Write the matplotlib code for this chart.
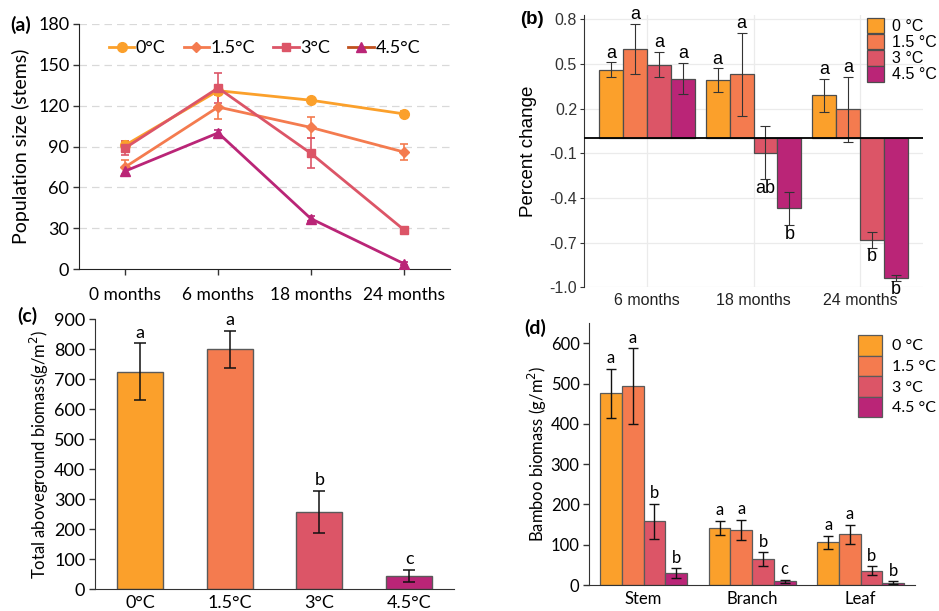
import matplotlib
matplotlib.use("Agg")
import matplotlib.pyplot as plt
import numpy as np
from matplotlib.lines import Line2D
from matplotlib.patches import Patch

# ---------------- data ----------------
temps = ["0°C", "1.5°C", "3°C", "4.5°C"]
temps_sp = ["0 °C", "1.5 °C", "3 °C", "4.5 °C"]
colors = ["#FBA02B", "#F47B4F", "#DC5567", "#BA2577"]

# (a) population size
months_a = ["0 months", "6 months", "18 months", "24 months"]
pop_0 = [91, 131, 124, 114]
pop_15 = [75, 119, 104, 86]
pop_3 = [89, 133, 85, 29]
pop_45 = [72, 100, 37, 4]
pop_err_0 = [3, 3, 2, 2]
pop_err_15 = [5, 9, 8, 6]
pop_err_3 = [5, 11, 11, 2]
pop_err_45 = [3, 2, 2, 1]

# (b) percent change
months_b = ["6 months", "18 months", "24 months"]
pc_0 = [0.46, 0.39, 0.29]
pc_15 = [0.60, 0.43, 0.195]
pc_3 = [0.495, -0.095, -0.68]
pc_45 = [0.40, -0.47, -0.935]
pc_err_0 = [0.05, 0.08, 0.11]
pc_err_15 = [0.17, 0.28, 0.22]
pc_err_3 = [0.085, 0.18, 0.053]
pc_err_45 = [0.105, 0.11, 0.02]
pc_let_0 = ["a", "a", "a"]
pc_let_15 = ["a", "a", "a"]
pc_let_3 = ["a", "ab", "b"]
pc_let_45 = ["a", "b", "b"]

# (c) total aboveground biomass
total_bio = [725, 800, 258, 45]
total_err = [95, 62, 71, 21]
total_let = ["a", "a", "b", "c"]

# (d) bamboo biomass by organ
organs = ["Stem", "Branch", "Leaf"]
bio_0 = [476, 142, 106]
bio_15 = [494, 137, 126]
bio_3 = [158, 64, 36]
bio_45 = [29, 9, 6]
bio_err_0 = [61, 18, 16]
bio_err_15 = [94, 25, 24]
bio_err_3 = [44, 17, 10]
bio_err_45 = [12, 4, 3]
bio_let_0 = ["a", "a", "a"]
bio_let_15 = ["a", "a", "a"]
bio_let_3 = ["b", "b", "b"]
bio_let_45 = ["b", "c", "b"]

FW, FH = 939, 611
fig = plt.figure(figsize=(FW / 100, FH / 100), dpi=100)

def ax_px(l, t, r, b):
    return fig.add_axes([l / FW, 1 - b / FH, (r - l) / FW, (b - t) / FH])

def fig_pt(x, y):
    return (x / FW, 1 - y / FH)

CAL = "Lato"
ARI = "Liberation Sans"

# ---------------- (a) ----------------
axa = ax_px(79, 24, 450, 269)
xa = np.arange(len(months_a))
series_a = [(pop_0, pop_err_0, "o", 7), (pop_15, pop_err_15, "D", 5.5),
            (pop_3, pop_err_3, "s", 6), (pop_45, pop_err_45, "^", 7)]
for (vals, errs, mk, ms), c in zip(series_a, colors):
    axa.errorbar(xa, vals, yerr=errs, color=c, marker=mk, markersize=ms,
                 lw=2, capsize=3, elinewidth=1.2, capthick=1.2, zorder=3)
axa.set_xlim(-0.5, 3.5)
axa.set_ylim(0, 180)
axa.set_yticks(np.arange(0, 181, 30))
axa.set_xticks(xa)
axa.set_xticklabels(months_a, family=CAL, fontsize=12.5)
for lab in axa.get_yticklabels():
    lab.set_family(CAL); lab.set_fontsize(13)
axa.tick_params(axis="y", length=4, width=1, color="#333333", pad=3)
axa.tick_params(axis="x", length=4, width=1, color="#333333", pad=9)
for y in np.arange(30, 181, 30):
    axa.axhline(y, color="#D9D9D9", lw=0.9, ls=(0, (6, 4)), zorder=0)
for s in ["top", "right"]:
    axa.spines[s].set_visible(False)
axa.spines["left"].set_color("#222222")
axa.spines["bottom"].set_color("#222222")
axa.set_ylabel("Population size (stems)", family=CAL, fontsize=14, labelpad=6)
handles_a = [Line2D([], [], color=colors[0], marker="o", ms=7, lw=2),
             Line2D([], [], color=colors[1], marker="D", ms=5.5, lw=2),
             Line2D([], [], color=colors[2], marker="s", ms=6, lw=2),
             Line2D([], [], color="#C0501E", marker="^", ms=7, lw=2,
                    markerfacecolor=colors[3], markeredgecolor=colors[3])]
axa.legend(handles_a, temps, loc="upper center", bbox_to_anchor=(0.5, 1.0),
           ncol=4, frameon=False, prop={"family": CAL, "size": 13},
           handlelength=1.4, handletextpad=0.1, columnspacing=1.0)
fig.text(10 / FW, 1 - 25 / FH, "(a)", family=CAL, fontsize=14, weight="bold", va="center")

# ---------------- (b) ----------------
axb = ax_px(584, 14.8, 923, 287.3)
xb = np.arange(1, len(months_b) + 1)
wb = 0.225
series_b = [(pc_0, pc_err_0, pc_let_0), (pc_15, pc_err_15, pc_let_15),
            (pc_3, pc_err_3, pc_let_3), (pc_45, pc_err_45, pc_let_45)]
for i, ((vals, errs, lets), c) in enumerate(zip(series_b, colors)):
    pos = xb + (i - 1.5) * wb
    axb.bar(pos, vals, width=wb, color=c, edgecolor="#4D4D4D", lw=0.9, zorder=2)
    axb.errorbar(pos, vals, yerr=errs, fmt="none", ecolor="#333333", elinewidth=0.8,
                 capsize=3.5, capthick=0.8, zorder=3)
    for p, v, e, l in zip(pos, vals, errs, lets):
        if v >= 0:
            axb.text(p, v + e + 0.005, l, ha="center", va="bottom", family=ARI, fontsize=13)
        else:
            axb.text(p, v - e - 0.005, l, ha="center", va="top", family=ARI, fontsize=13)
axb.axhline(0, color="black", lw=1.3, zorder=4)
axb.set_xlim(0.41, 3.59)
axb.set_ylim(-1.0, 0.83)
yt_b = [-1.0, -0.7, -0.4, -0.1, 0.2, 0.5, 0.8]
axb.set_yticks(yt_b)
axb.set_yticklabels(["-1.0", "-0.7", "-0.4", "-0.1", "0.2", "0.5", "0.8"],
                    family=ARI, fontsize=11.5, color="#333333")
axb.set_xticks(xb)
axb.set_xticklabels(months_b, family=ARI, fontsize=11.5, color="#222222")
axb.tick_params(axis="x", length=0, pad=4)
axb.tick_params(axis="y", length=3, width=0.8, color="#333333", pad=2)
axb.grid(True, color="#EBEBEB", lw=0.9, zorder=0)
axb.set_axisbelow(True)
for s in ["top", "right", "bottom"]:
    axb.spines[s].set_visible(False)
axb.spines["left"].set_color("#333333")
axb.set_ylabel("Percent change", family=ARI, fontsize=13.5, labelpad=9)
handles_b = [Patch(facecolor=c, edgecolor="#4D4D4D", lw=0.9) for c in colors]
axb.legend(handles_b, temps_sp, loc="upper left", bbox_to_anchor=fig_pt(867, 18),
           bbox_transform=fig.transFigure, borderpad=0, borderaxespad=0,
           frameon=False, prop={"family": ARI, "size": 11.5},
           handlelength=1.05, handleheight=1.1, handletextpad=0.5, labelspacing=0.0)
fig.text(520 / FW, 1 - 20 / FH, "(b)", family=ARI, fontsize=13.5, weight="bold", va="center")

# ---------------- (c) ----------------
axc = ax_px(95, 319.3, 454, 589.3)
xc = np.arange(len(temps))
axc.bar(xc, total_bio, width=0.51, color=colors, edgecolor="#5A5A5A", lw=1.0, zorder=2)
axc.errorbar(xc, total_bio, yerr=total_err, fmt="none", ecolor="#111111",
             elinewidth=1.1, capsize=4, capthick=1.1, zorder=3)
for x, v, e, l in zip(xc, total_bio, total_err, total_let):
    axc.text(x, v + e + 8, l, ha="center", va="bottom", family=CAL, fontsize=13)
axc.set_xlim(-0.5, 3.5)
axc.set_ylim(0, 900)
axc.set_yticks(np.arange(0, 901, 100))
axc.set_xticks(xc)
axc.set_xticklabels(temps, family=CAL, fontsize=13)
for lab in axc.get_yticklabels():
    lab.set_family(CAL); lab.set_fontsize(13)
axc.tick_params(axis="y", length=4, width=1, color="#333333", pad=3)
axc.tick_params(axis="x", length=0, pad=4)
for s in ["top", "right"]:
    axc.spines[s].set_visible(False)
axc.spines["left"].set_color("#333333")
axc.spines["bottom"].set_color("#333333")
axc.set_ylabel("Total aboveground biomass(g/m$^2$)", family=CAL, fontsize=12, labelpad=2)
fig.text(17 / FW, 1 - 316 / FH, "(c)", family=CAL, fontsize=14, weight="bold", va="center")

# ---------------- (d) ----------------
axd = ax_px(589.3, 323.3, 915, 585)
xd = np.arange(len(organs))
wd = 0.2
series_d = [(bio_0, bio_err_0, bio_let_0), (bio_15, bio_err_15, bio_let_15),
            (bio_3, bio_err_3, bio_let_3), (bio_45, bio_err_45, bio_let_45)]
for i, ((vals, errs, lets), c) in enumerate(zip(series_d, colors)):
    pos = xd + (i - 1.5) * wd
    axd.bar(pos, vals, width=wd, color=c, edgecolor="#5A5A5A", lw=0.9, zorder=2)
    axd.errorbar(pos, vals, yerr=errs, fmt="none", ecolor="#111111", elinewidth=1.0,
                 capsize=3.5, capthick=1.0, zorder=3)
    for p, v, e, l in zip(pos, vals, errs, lets):
        axd.text(p, v + e + 6, l, ha="center", va="bottom", family=CAL, fontsize=12)
axd.set_xlim(-0.5, 2.5)
axd.set_ylim(0, 650)
axd.set_yticks(np.arange(0, 601, 100))
axd.set_xticks(xd)
axd.set_xticklabels(organs, family=CAL, fontsize=12)
for lab in axd.get_yticklabels():
    lab.set_family(CAL); lab.set_fontsize(12)
axd.tick_params(axis="y", length=4, width=1, color="#333333", pad=3)
axd.tick_params(axis="x", length=0, pad=4)
for s in ["top", "right"]:
    axd.spines[s].set_visible(False)
axd.spines["left"].set_color("#333333")
axd.spines["bottom"].set_color("#333333")
axd.set_ylabel("Bamboo biomass (g/m$^2$)", family=CAL, fontsize=12, labelpad=1)
handles_d = [Patch(facecolor=c, edgecolor="#5A5A5A", lw=0.9) for c in colors]
axd.legend(handles_d, temps_sp, loc="upper left", bbox_to_anchor=fig_pt(858, 335),
           bbox_transform=fig.transFigure, borderpad=0, borderaxespad=0,
           frameon=False, prop={"family": CAL, "size": 11.5},
           handlelength=1.5, handleheight=1.6, handletextpad=0.6, labelspacing=0.0)
fig.text(524 / FW, 1 - 328 / FH, "(d)", family=CAL, fontsize=14, weight="bold", va="center")

fig.savefig("out.png", dpi=100)
